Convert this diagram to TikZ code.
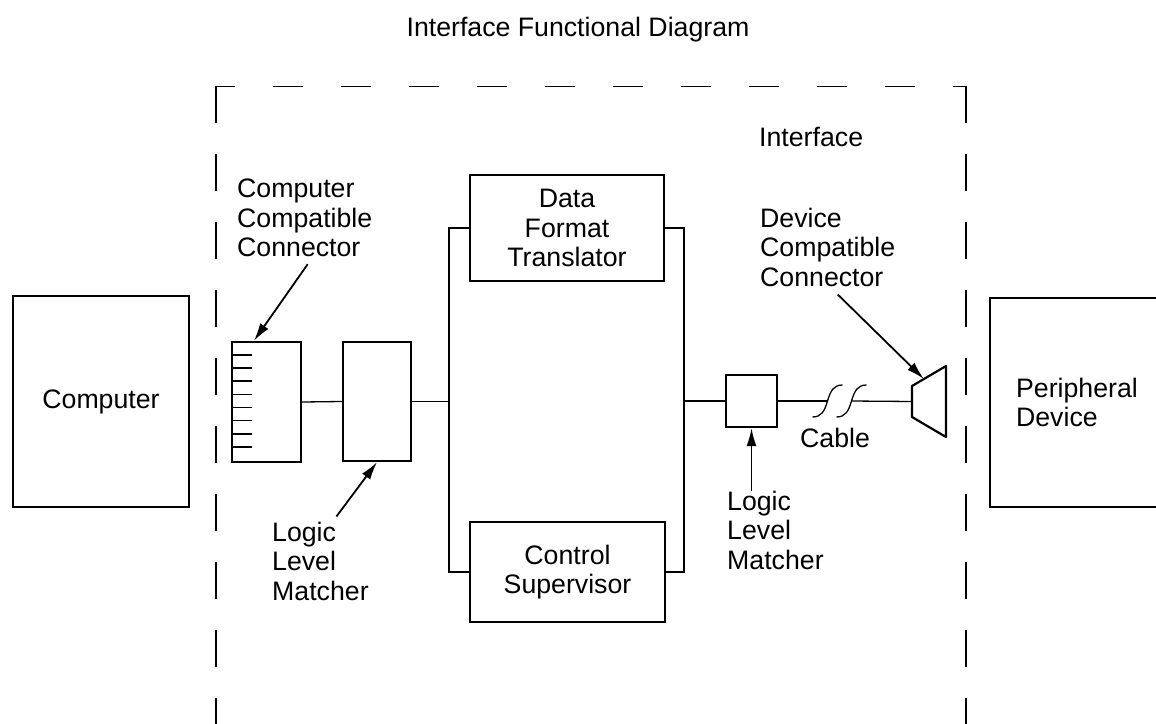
\documentclass[tikz,border=0pt]{standalone}
\usepackage{fontspec}
\setmainfont{Liberation Sans}
\usetikzlibrary{arrows.meta,calc}

\tikzset{
    box/.style={draw, line width=2.2pt, inner sep=0pt, align=center},
    txt/.style={inner sep=0pt, align=left},
    wire/.style={line width=1.3pt},
    pointer/.style={line width=1.8pt, -{Latex[length=18pt,width=10pt]}},
    frameline/.style={line width=1.6pt, line cap=rect}
}

\begin{document}
\begin{tikzpicture}[x=1pt, y=-1pt, font=\fontsize{26.7}{29.5}\selectfont]
        \def \busleft {449}     % x of the left bus
        \def \busright {684}    % x of the right bus
        \def \frametop {86.5}   % top edge of the interface frame
        \clip (0,0) rectangle (1156,723);
        % title
        \node[txt] (title) at (578,30) {Interface Functional Diagram};
        % interface frame
        \draw[frameline, dash pattern=on 28pt off 40pt, dash phase=10pt]
            (216,\frametop) -- (966,\frametop);
        \draw[frameline, dash pattern=on 36pt off 32pt] (216,\frametop) -- (216,760);
        \draw[frameline, dash pattern=on 36pt off 32pt] (966,\frametop) -- (966,760);
        \node[txt, anchor=west] (ifacelbl) at (759,137) {Interface};
        % computer and peripheral
        \node[box, minimum width=176, minimum height=211] (comp) at (101,401.5) {Computer};
        \node[box, minimum width=200, minimum height=209] (periph) at (1090,402.5) {};
        \node[txt, anchor=west] (periphtxt) at ([xshift=27pt]periph.west) {Peripheral\\Device};
        % computer compatible connector
        \node[box, minimum width=69, minimum height=120] (conn) at (266.5,402) {};
        \foreach \k in {0,...,7}
            \draw[line width=1.5pt] ([yshift={-14-13.15*\k}]conn.north west) -- ++(21,0);
        % logic level matchers
        \node[box, minimum width=68, minimum height=119] (llmL) at (377,401.5) {};
        \node[box, minimum width=51, minimum height=52] (llmR) at (751.5,401) {};
        % translator and supervisor
        \node[box, minimum width=194, minimum height=106] (dft) at (567,228) {Data\\Format\\Translator};
        \node[box, minimum width=195, minimum height=100] (cs) at (567.5,572) {Control\\Supervisor};
        % buses
        \coordinate (busLtop) at (\busleft,228);
        \coordinate (busLbot) at (\busleft,572);
        \coordinate (busRtop) at (\busright,228);
        \coordinate (busRbot) at (\busright,572);
        \draw[wire] (dft.west) -- (busLtop) -- (busLbot) -- (cs.west);
        \draw[wire] (dft.east) -- (busRtop) -- (busRbot) -- (cs.east);
        \draw[wire] (conn.east) -- (llmL.west);
        \draw[wire] (llmL.east) -- (llmL.east -| busLtop);
        \draw[wire] (busRtop |- llmR.west) -- (llmR.west);
        % device compatible connector
        \coordinate (plugtl) at (912,386);
        \coordinate (plugtr) at (946,366);
        \coordinate (plugbr) at (946,437);
        \coordinate (plugbl) at (912,417);
        \coordinate (plug) at ($(plugtl)!0.5!(plugbl)$);
        \draw[line width=2.2pt, line join=round] (plugtl) -- (plugtr) -- (plugbr) -- (plugbl) -- cycle;
        % cable with break marks
        \coordinate (brk1) at (827.5,401);
        \coordinate (brk2) at (851.5,401);
        \draw[wire] (llmR.east) -- (brk1);
        \draw[wire] (brk2) -- (plug);
        \foreach \s in {brk1,brk2}
            \draw[wire] ($(\s)+(-15,16)$) .. controls +(9,0) and +(-3,10) .. (\s)
                .. controls +(3,-10) and +(-9,0) .. ($(\s)+(15,-16)$);
        \node[txt, anchor=west] (cablelbl) at (800,438) {Cable};
        % labels and pointers
        \node[txt, anchor=west] (ccclbl) at (237,218) {Computer\\Compatible\\Connector};
        \node[txt, anchor=west] (llmLlbl) at (272,561) {Logic\\Level\\Matcher};
        \node[txt, anchor=west] (llmRlbl) at (727,530) {Logic\\Level\\Matcher};
        \node[txt, anchor=west] (dcclbl) at (760,247) {Device\\Compatible\\Connector};
        \draw[pointer] ([shift={(3pt,-7pt)}]ccclbl.south) -- ([xshift=23pt]conn.north west);
        \draw[pointer] ([shift={(16pt,5pt)}]llmLlbl.north) -- (llmL.south);
        \draw[pointer] (llmR.south |- llmRlbl.north) -- (llmR.south);
        \draw[pointer] ([shift={(10pt,-8pt)}]dcclbl.south) -- ($(plugtl)!0.35!(plugtr)$);
\end{tikzpicture}
\end{document}
